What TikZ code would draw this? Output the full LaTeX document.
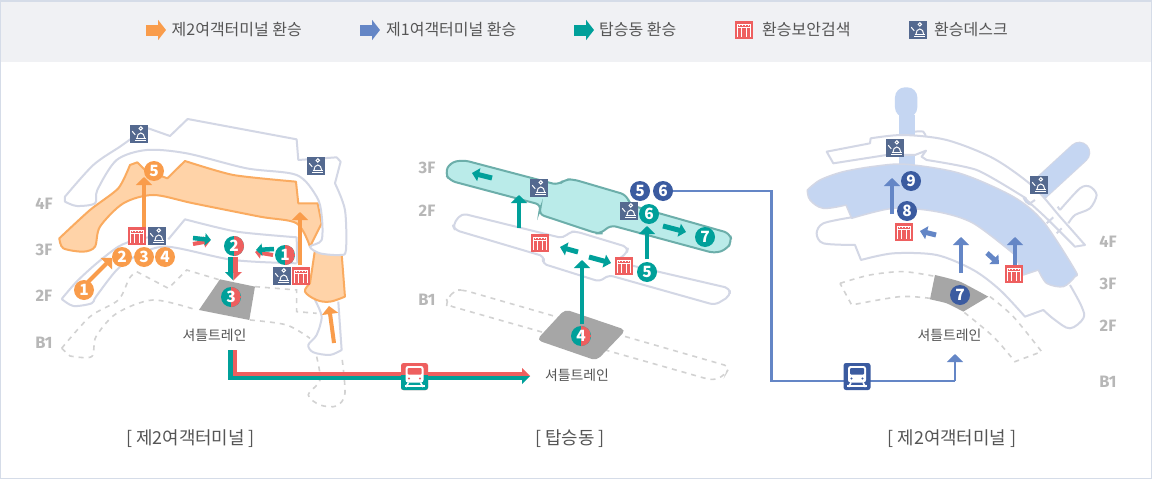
\documentclass[tikz,border=0pt]{standalone}
\usepackage{fontspec}
\setmainfont{Noto Sans CJK KR}
\newfontfamily\labelfont{Fira Sans}
\usetikzlibrary{arrows.meta}
\definecolor{cOrange}{HTML}{F99C4B}
\definecolor{cOrangeFill}{HTML}{FFD3A8}
\definecolor{cOrangeLine}{HTML}{FAAB60}
\definecolor{cTeal}{HTML}{00A09A}
\definecolor{cTealFill}{HTML}{BAEBE9}
\definecolor{cTealLine}{HTML}{6CAEAA}
\definecolor{cRed}{HTML}{EE5F5F}
\definecolor{cDesk}{HTML}{54698F}
\definecolor{cBlue}{HTML}{6486C6}
\definecolor{cNavy}{HTML}{3B5BA0}
\definecolor{cBlueFill}{HTML}{C5D6F2}
\definecolor{cGrayLine}{HTML}{D3D7E5}
\definecolor{cDash}{HTML}{D2D2D2}
\definecolor{cShuttle}{HTML}{A6A6A6}
\definecolor{cFloor}{HTML}{B7B7B7}
\definecolor{cText}{HTML}{555555}
\definecolor{cBand}{HTML}{F0F1F4}
\definecolor{cBorder}{HTML}{D5DCE8}
\tikzset{
 floorline/.style={draw=cGrayLine,line width=2pt,line join=round},
 dashline/.style={draw=cDash,line width=1.6pt,dash pattern=on 5pt off 5pt},
 oarrow/.style={draw=cOrange,line width=4pt,-{Triangle[length=8pt,width=16pt]}},
 tarrow/.style={draw=cTeal,line width=4pt,-{Triangle[length=8pt,width=16pt]}},
 barrow/.style={draw=cBlue,line width=4pt,-{Triangle[length=8pt,width=16pt]}},
 tsmall/.style={draw=cTeal,line width=5pt,-{Triangle[length=7pt,width=13pt]}},
 bsmall/.style={draw=cBlue,line width=5pt,-{Triangle[length=7pt,width=13pt]}},
 rsmall/.style={draw=cRed,line width=4pt,-{Triangle[length=6pt,width=11pt]}},
 tsm/.style={draw=cTeal,line width=4.5pt,-{Triangle[length=6pt,width=12pt]}},
 numnode/.style={circle,minimum size=20pt,inner sep=0pt,text=white,font=\fontsize{15.5}{15.5}\selectfont\bfseries},
 squarenode/.style={minimum size=18pt,inner sep=0pt},
 floorlabel/.style={text=cFloor,font=\labelfont\fontsize{16.5}{16.5}\selectfont\bfseries},
 legendtext/.style={anchor=west,inner sep=0pt,text=cText,font=\fontsize{16}{16}\selectfont},
 shuttletext/.style={text=cText,inner sep=0pt,font=\fontsize{13.9}{14}\selectfont},
 captext/.style={text=cText,inner sep=0pt,font=\fontsize{17.9}{18}\selectfont},
 legarrow/.style={line width=11pt,-{Triangle[length=8pt,width=20pt]}},
 trainbox/.style={minimum size=27pt,inner sep=0pt,rounded corners=2.5pt},
}
\newcommand{\Desk}[3]{%
 \node[squarenode,fill=cDesk] (#1) at (#2,#3) {};
 \begin{scope}[shift={(#2,#3)},draw=white,line width=1pt]
  \draw (-4,6.6) -- (6.8,6.6);
  \draw (-3.5,4) -- (6.8,4);
  \draw (-2,4) arc[start angle=180,end angle=0,x radius=3.8,y radius=-5];
  \draw (1.8,-5.6) circle[radius=1.7];
  \draw (-6.8,-2.8) -- (-3.8,0.8);
 \end{scope}}
\newcommand{\Gate}[3]{%
 \node[squarenode,fill=cRed] (#1) at (#2,#3) {};
 \begin{scope}[shift={(#2,#3)},draw=white,line width=1pt]
  \draw (-6.5,7) -- (-6.5,-6) -- (6.5,-6) -- (6.5,7);
  \draw (-6.5,-2.5) -- (6.5,-2.5);
  \draw (-2.2,-2.5) -- (-2.2,7) (2.2,-2.5) -- (2.2,7);
  \draw[dotted] (-5.5,-4.2) -- (5.5,-4.2);
 \end{scope}}
\newcommand{\Num}[5]{\node[numnode,fill=#4] (#1) at (#2,#3) {#5};}
\newcommand{\Half}[4]{\node[numnode,fill=cTeal,path picture={\fill[cRed] (path picture bounding box.north) rectangle (path picture bounding box.south east);}] (#1) at (#2,#3) {#4};}
\newcommand{\Train}[3]{%
 \begin{scope}[shift={(#2,#3)}]
  \fill[white,rounded corners=2.5pt] (-9,-10.5) rectangle (9,6);
  \fill[#1,rounded corners=1pt] (-7,-8.5) rectangle (7,-2);
  \fill[#1] (-5.5,2) circle[radius=1.2] (5.5,2) circle[radius=1.2];
  \draw[white,line width=1.6pt] (-6,6) -- (-8.5,10.5) (6,6) -- (8.5,10.5);
  \draw[white,line width=1.6pt] (-10,9.5) -- (10,9.5);
 \end{scope}}
\begin{document}
\begin{tikzpicture}[x=1pt,y=-1pt]
\useasboundingbox (0,0) rectangle (1152,479);
\fill[white] (0,0) rectangle (1152,479);
\fill[cBand] (0,0) rectangle (1152,62);
\draw[cBorder,line width=1pt] (0.5,0.5) rectangle (1151.5,478.5);
\draw[cBorder,line width=1.5pt] (0,1) -- (1152,1);

% legend
\coordinate (la1) at (146,30); \coordinate (lb1) at (166,30);
\coordinate (la2) at (360,30); \coordinate (lb2) at (380,30);
\coordinate (la3) at (574,30); \coordinate (lb3) at (594,30);
\draw[legarrow,cOrange] (la1) -- (lb1);
\draw[legarrow,cBlue] (la2) -- (lb2);
\draw[legarrow,cTeal] (la3) -- (lb3);
\node[legendtext] (lt1) at (171.5,29.5) {제2여객터미널 환승};
\node[legendtext] (lt2) at (386,29.5) {제1여객터미널 환승};
\node[legendtext] (lt3) at (599,29.5) {탑승동 환승};
\Gate{lg}{744}{30}
\node[legendtext] (lt4) at (762,29.5) {환승보안검색};
\Desk{ld}{918}{30}
\node[legendtext] (lt5) at (934,29.5) {환승데스크};

% ---------------- left map (zoom coordinates)
\begin{scope}[shift={(20,100)},x=0.3333pt,y=-0.3333pt]
 \draw[dashline] plot[smooth,tension=.5] coordinates {(125,745)(210,650)(295,600)(328,535)(350,515)} -- (445,565) -- (500,510) -- (600,540);
 \draw[dashline] (705,560) -- (830,570) -- (830,635) -- (890,640);
 \draw[dashline] (125,745) -- (150,768) -- plot[smooth,tension=.5] coordinates {(150,768)(215,770)(228,710)(290,640)(400,600)(530,630)};
 \draw[dashline] plot[smooth,tension=.5] coordinates {(690,660)(800,675)(870,715)};
 \draw[dashline] plot[smooth,tension=.5] coordinates {(890,770)(900,840)(865,885)(900,915)(950,918)(975,880)(965,765)};
 \fill[cShuttle] (600,538) -- (705,560) -- (688,660) -- (537,630) -- cycle;
 % lower floor
 \draw[floorline] plot[smooth,tension=.5] coordinates {(125,597)(170,545)(230,490)(295,440)(345,420)(385,412)};
 \draw[floorline] (445,418) -- (495,358) -- plot[smooth,tension=.4] coordinates {(495,358)(650,395)(830,412)} -- (832,490);
 \draw[floorline] plot[smooth,tension=.5] coordinates {(125,597)(160,618)(215,610)(228,590)(290,510)(345,470)(440,440)(640,480)(830,490)};
 \draw[floorline] (885,600) -- plot[smooth,tension=.5] coordinates {(885,600)(905,650)(890,705)(865,735)(880,757)(930,765)(965,750)} -- (955,605);
 % orange
 \draw[fill=cOrangeFill,draw=cOrangeLine,line width=2pt,line join=round]
  plot[smooth,tension=.4] coordinates {(118,415)(210,330)(295,265)(330,195)} -- (352,187) -- (375,210) -- (442,235) -- (495,183)
  -- plot[smooth,tension=.4] coordinates {(495,183)(640,225)(828,245)} -- (835,310) -- (893,310) -- (905,370) -- (870,440)
  -- plot[smooth,tension=.5] coordinates {(870,440)(830,370)(720,350)(520,310)(400,285)(310,310)(240,380)(225,440)(190,455)(130,445)(118,415)} -- cycle;
 \fill[cOrangeFill] (885,450) -- (870,550) -- plot[smooth,tension=.6] coordinates {(870,550)(855,575)(890,600)(930,605)(975,590)} -- (965,460) -- cycle;
 \draw[draw=cOrangeLine,line width=2pt,line join=round]
  (885,450) -- (870,550) -- plot[smooth,tension=.6] coordinates {(870,550)(855,575)(890,600)(930,605)(975,590)} -- (965,460);
 % upper floor
 \draw[floorline,fill=white] plot[smooth,tension=.5] coordinates {(135,290)(220,195)(300,140)(335,115)} -- (385,85) -- (450,108) -- (503,57) -- (830,118) -- (835,180) -- (950,172) -- (962,185) -- (945,250) -- plot[smooth,tension=.5] coordinates {(945,250)(975,330)(978,450)(960,465)(900,460)(870,440)(905,420)(905,345)(890,290)(830,225)(680,205)(500,160)(380,150)(290,180)(232,270)(225,310)(170,318)(135,305)} -- cycle;
\end{scope}

\node[floorlabel] (f4a) at (44,204) {4F};
\node[floorlabel] (f3a) at (44,250) {3F};
\node[floorlabel] (f2a) at (44,296) {2F};
\node[floorlabel] (f1a) at (44,343) {B1};

\Num{o1}{84}{290}{cOrange}{1}
\Num{o2}{122}{257}{cOrange}{2}
\Num{o3}{144}{257}{cOrange}{3}
\Num{o4}{165}{257}{cOrange}{4}
\Num{o5}{154}{171}{cOrange}{5}
\Gate{g1}{137}{236}
\Desk{d1}{157}{236}
\Desk{d2}{139}{134}
\Desk{d3}{316}{166}
\Desk{d4}{282}{276}
\Gate{g2}{301}{276}
\Half{h1}{285}{255}{1}
\Half{h2}{234}{246}{2}
\Half{h3}{231}{297}{3}
\coordinate (oa5) at (88,282); \coordinate (oa6) at (112,258);
\draw[oarrow] (oa5) -- (oa6);
\coordinate (oa7) at (144,227); \coordinate (oa8) at (144,177);
\draw[oarrow] (oa7) -- (oa8);
\coordinate (oa1) at (300,265); \coordinate (oa2) at (300,212);
\draw[oarrow] (oa1) -- (oa2);
\coordinate (oa3) at (334,343); \coordinate (oa4) at (329,306);
\draw[oarrow] (oa3) -- (oa4);
% two-tone small arrows
\coordinate (s1a) at (193,244); \coordinate (s1b) at (210,241);
\coordinate (s2a) at (193,238); \coordinate (s2b) at (211,240);
\draw[rsmall] (s1a) -- (s1b);
\draw[tsm] (s2a) -- (s2b);
\coordinate (s3a) at (273,255); \coordinate (s3b) at (255,252);
\coordinate (s4a) at (274,249); \coordinate (s4b) at (256,250);
\draw[rsmall] (s3a) -- (s3b);
\draw[tsm] (s4a) -- (s4b);
% 2 -> 3
\coordinate (d2a) at (230.5,257); \coordinate (d2b) at (230.5,273);
\coordinate (d3a) at (235.75,257); \coordinate (d3b) at (235.75,273);
\draw[line width=5.5pt,cTeal] (d2a) -- (d2b);
\draw[line width=5pt,cRed] (d3a) -- (d3b);
\fill[cTeal] (225,272) -- (233.4,280.5) -- (233.4,272) -- cycle;
\fill[cRed] (242,272) -- (233.4,280.5) -- (233.4,272) -- cycle;
\node[shuttletext] (st1) at (214.5,335) {셔틀트레인};
\node[captext] (cap1) at (190.5,439) {[ 제2여객터미널 ]};

% ---------------- centre map
\begin{scope}[shift={(400,140)},x=0.3333pt,y=-0.3333pt]
 \draw[dashline,rounded corners=6pt] (140,480) -- (165,450) -- (190,450) -- (990,680) -- (975,705) -- (940,722) -- (140,495) -- cycle;
 \fill[cShuttle,rounded corners=5pt] (495,508) -- (678,570) -- (590,662) -- (410,600) -- cycle;
 \draw[floorline,fill=white,rounded corners=5pt] (158,255) -- (185,220) -- (490,295) -- (510,275) -- (530,275) -- (685,322) -- (680,340) -- (645,365) -- (990,445) -- (990,468) -- (945,495) -- (625,405) -- (600,425) -- (425,370) -- (435,350) -- (165,270) -- cycle;
 \draw[fill=cTealFill,draw=cTealLine,line width=2pt,rounded corners=6pt] (135,100) -- (150,68) -- (190,60) -- (475,135) -- (495,118) -- (520,118) -- (680,165) -- (690,195) -- (990,280) -- (995,305) -- (980,328) -- (945,340) -- (630,255) -- (605,280) -- (590,280) -- (415,222) -- (425,195) -- (150,122) -- cycle;
\end{scope}
\node[floorlabel] (f3b) at (427,168) {3F};
\node[floorlabel] (f2b) at (427,211) {2F};
\node[floorlabel] (f1b) at (427,300) {B1};
\Desk{d5}{539}{188}
\Desk{d6}{629}{211}
\Gate{g3}{540}{243}
\Gate{g4}{624}{266}
\Num{t5}{647}{272}{cTeal}{5}
\Num{t6}{649}{214}{cTeal}{6}
\Num{t7}{705}{237}{cTeal}{7}
\Num{n5}{640}{191}{cNavy}{5}
\Num{n6}{663}{191}{cNavy}{6}
\Half{h4}{581}{336}{4}
\coordinate (ta1) at (519,228); \coordinate (tb1) at (519,195);
\draw[tarrow] (ta1) -- (tb1);
\coordinate (ta2) at (582,324); \coordinate (tb2) at (582,260);
\draw[tarrow] (ta2) -- (tb2);
\coordinate (ta7) at (647,259); \coordinate (tb7) at (647,226);
\draw[tarrow] (ta7) -- (tb7);
\coordinate (ta3) at (492,178); \coordinate (tb3) at (472,173);
\draw[tsmall] (ta3) -- (tb3);
\coordinate (ta4) at (578,252); \coordinate (tb4) at (560,247);
\draw[tsmall] (ta4) -- (tb4);
\coordinate (ta5) at (589,257); \coordinate (tb5) at (611,263);
\draw[tsmall] (ta5) -- (tb5);
\coordinate (ta6) at (663,226); \coordinate (tb6) at (686,232);
\draw[tsmall] (ta6) -- (tb6);
\node[shuttletext] (st2) at (577,375) {셔틀트레인};
\node[captext] (cap2) at (570,439) {[ 탑승동 ]};

% ---------------- right map
\begin{scope}[shift={(760,80)},x=0.3333pt,y=-0.3333pt]
 \draw[dashline] plot[smooth,tension=.5] coordinates {(240,610)(330,585)(430,575)(530,590)};
 \draw[dashline] plot[smooth,tension=.5] coordinates {(690,650)(760,710)(845,815)} -- (765,845) -- plot[smooth,tension=.5] coordinates {(765,845)(700,770)(610,695)};
 \draw[dashline] plot[smooth,tension=.5] coordinates {(510,655)(420,650)(275,675)} -- (240,610);
 \fill[cShuttle] plot[smooth,tension=.3] coordinates {(525,585)(600,605)(685,650)} -- (610,695) -- plot[smooth,tension=.3] coordinates {(610,695)(560,670)(510,658)} -- cycle;
 % lower floor
 \draw[floorline] plot[smooth,tension=.5] coordinates {(275,412)(190,430)(170,460)(190,490)(285,495)} -- (303,540) -- plot[smooth,tension=.5] coordinates {(303,540)(400,520)(530,525)(640,570)(720,630)(795,710)} -- (850,690) -- plot[smooth,tension=.6] coordinates {(850,690)(885,720)(930,745)(970,715)(965,680)(930,615)};
 \draw[floorline] plot[smooth,tension=.5] coordinates {(900,390)(960,325)(990,320)(1010,345)(990,385)(945,405)(925,430)};
 \draw[floorline] (900,390) -- (893,380);
 % blue branches
 \coordinate (brA) at (820,345); \coordinate (brB) at (958,218);
 \draw[cGrayLine,line width=22pt,line cap=round] (brA) -- (brB);
 \draw[cBlueFill,line width=20pt,line cap=round] (brA) -- (brB);
 \fill[cBlueFill,rounded corners=10pt] (405,112) -- (405,22) -- (472,22) -- (472,112) -- cycle;
 \fill[cBlueFill] (417,105) rectangle (465,270);
 \draw[fill=cBlueFill,draw=cGrayLine,line width=1.5pt,line join=round]
  plot[smooth,tension=.5] coordinates {(142,330)(180,300)(250,275)(350,258)(440,253)(600,280)(760,350)(850,425)(945,570)(945,590)(910,620)(860,610)(835,570)} -- (790,585)
  -- plot[smooth,tension=.5] coordinates {(765,525)(640,430)(530,395)(400,385)(275,415)} -- (258,375) -- plot[smooth,tension=.6] coordinates {(258,375)(190,385)(150,360)(142,330)} -- cycle;
 % band
 \draw[floorline,fill=white] (200,215) -- (330,190) -- (332,175) -- plot[smooth,tension=.5] coordinates {(332,175)(430,165)(560,180)(700,235)(820,320)(900,410)(975,495)} -- (945,500) -- plot[smooth,tension=.4] coordinates {(945,500)(860,415)(800,360)(790,350)(650,270)(500,240)} -- (485,230) -- (498,212) -- (465,225) -- (380,225) -- (220,250) -- cycle;
 \draw[floorline] plot[smooth,tension=.6] coordinates {(465,155)(490,155)(497,170)};
 \draw[floorline] (810,370) -- (825,360);
 \draw[floorline] (860,430) -- (880,412);
 \draw[floorline] (890,460) -- (905,445);
\end{scope}
\node[floorlabel] (f4c) at (1108,242) {4F};
\node[floorlabel] (f3c) at (1108,284) {3F};
\node[floorlabel] (f2c) at (1108,326) {2F};
\node[floorlabel] (f1c) at (1108,382) {B1};
\Num{n7}{960}{295}{cNavy}{7}
\Num{n8}{907}{211}{cNavy}{8}
\Num{n9}{911}{181}{cNavy}{9}
\Gate{g5}{904}{232}
\Gate{g6}{1014}{274}
\Desk{d7}{895}{148}
\Desk{d8}{1039}{185}
\coordinate (ba1) at (892,214); \coordinate (bb1) at (892,178);
\draw[barrow] (ba1) -- (bb1);
\coordinate (ba2) at (961,273); \coordinate (bb2) at (961,237);
\draw[barrow] (ba2) -- (bb2);
\coordinate (ba3) at (1015,265); \coordinate (bb3) at (1015,237);
\draw[barrow] (ba3) -- (bb3);
\coordinate (ba4) at (936,235); \coordinate (bb4) at (920,231);
\draw[bsmall] (ba4) -- (bb4);
\coordinate (ba5) at (987,253); \coordinate (bb5) at (999,264);
\draw[bsmall] (ba5) -- (bb5);
\node[shuttletext] (st3) at (949.5,335) {셔틀트레인};
\node[captext] (cap3) at (952,439) {[ 제2여객터미널 ]};

% ---------------- rail connectors
\coordinate (ra0) at (234.5,350); \coordinate (ra1) at (234.5,374); \coordinate (ra2) at (522,374);
\coordinate (ta0) at (230.3,350); \coordinate (ta9) at (230.3,378.2); \coordinate (tb9) at (522,378.2);
\draw[cRed,line width=4.4pt] (ra0) -- (ra1) -- (ra2);
\draw[cTeal,line width=4.4pt] (ta0) -- (ta9) -- (tb9);
\fill[cRed] (522,368) -- (530,376) -- (522,376) -- cycle;
\fill[cTeal] (522,384) -- (530,376) -- (522,376) -- cycle;
\node[trainbox,fill=cRed] (tr1) at (414.5,376.5) {};
\begin{scope}
 \clip (401,375) rectangle (428,391);
 \fill[cTeal,rounded corners=2.5pt] (401,363) rectangle (428,390);
\end{scope}
\Train{cRed}{414.5}{376.5}
\coordinate (bl1) at (771.5,381); \coordinate (bl2) at (955,381); \coordinate (bl3) at (955,354);
\draw[cBlue,line width=2.6pt] (n6) -| (bl1) -- (bl2);
\draw[cBlue,line width=2.6pt,-{Triangle[length=8pt,width=16pt]}] (bl2) -- (bl3);
\node[trainbox,fill=cNavy] (tr2) at (857,376.5) {};
\Train{cNavy}{857}{376.5}
\end{tikzpicture}
\end{document}
